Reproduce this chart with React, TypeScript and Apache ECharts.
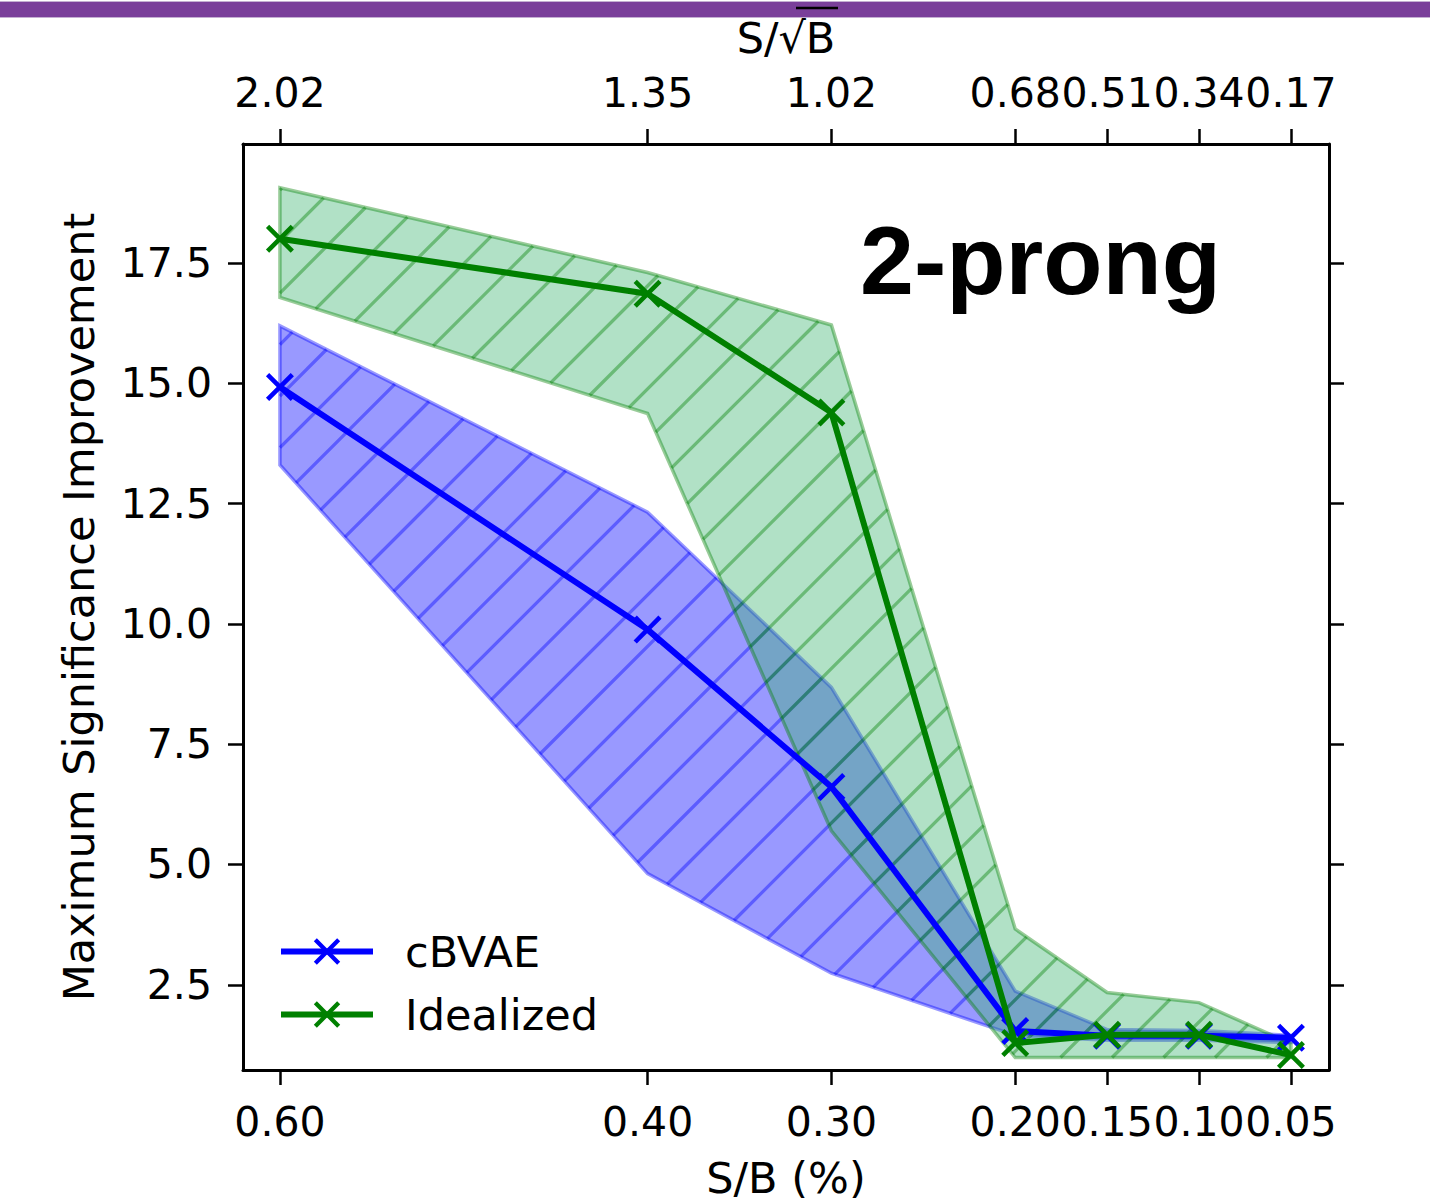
import React, { useEffect, useRef } from "react";
import * as echarts from "echarts";

// S/B (%) positions (bottom axis) and matching S/sqrt(B) labels (top axis)
const xValues = [0.6, 0.4, 0.3, 0.2, 0.15, 0.1, 0.05];
const topLabels = ["2.02", "1.35", "1.02", "0.68", "0.51", "0.34", "0.17"];
const yTicks = [2.5, 5.0, 7.5, 10.0, 12.5, 15.0, 17.5];

// cBVAE
const cbvaeMean = [14.92, 9.88, 6.61, 1.54, 1.44, 1.44, 1.4];
const cbvaeUpper = [16.19, 12.32, 8.68, 2.37, 1.57, 1.55, 1.45];
const cbvaeLower = [13.3, 4.81, 2.74, 1.45, 1.35, 1.35, 1.3];

// Idealized
const idealMean = [18.0, 16.86, 14.39, 1.29, 1.46, 1.46, 1.04];
const idealUpper = [19.06, 17.3, 16.21, 3.66, 2.34, 2.13, 1.28];
const idealLower = [16.78, 14.37, 5.7, 0.99, 0.99, 0.99, 0.99];

const X_MIN = 0.0293;
const X_MAX = 0.6201;
const Y_MIN = 0.73;
const Y_MAX = 19.97;

const FONT = "'DejaVu Sans', sans-serif";
const FS_TICK = 41;
const FS_NAME = 43;
const HATCH_PERIOD = 51.5;
const HATCH_OFFSET = 6.5;

// filled "x" marker
const xSymbol =
  "path://M0,3L3,0L13,10L23,0L26,3L16,13L26,23L23,26L13,16L3,26L0,23L10,13Z";

function bandRenderer(upper: number[], lower: number[], fill: string, edge: string) {
  return (_params: any, api: any) => {
    const pts: number[][] = [];
    for (let i = 0; i < xValues.length; i++) pts.push(api.coord([xValues[i], upper[i]]));
    for (let i = xValues.length - 1; i >= 0; i--) pts.push(api.coord([xValues[i], lower[i]]));
    const children: any[] = [
      { type: "polygon", shape: { points: pts }, style: { fill, stroke: "none" } },
    ];
    const sums = pts.map((p) => p[0] + p[1]);
    const cmin = Math.min(...sums);
    const cmax = Math.max(...sums);
    const n = pts.length;
    const k = Math.ceil((cmin - HATCH_OFFSET) / HATCH_PERIOD);
    for (let c = HATCH_OFFSET + k * HATCH_PERIOD; c <= cmax; c += HATCH_PERIOD) {
      const hits: number[][] = [];
      for (let i = 0; i < n; i++) {
        const a = pts[i];
        const b = pts[(i + 1) % n];
        const fa = a[0] + a[1] - c;
        const fb = b[0] + b[1] - c;
        if (fa < 0 !== fb < 0) {
          const t = fa / (fa - fb);
          hits.push([a[0] + t * (b[0] - a[0]), a[1] + t * (b[1] - a[1])]);
        }
      }
      hits.sort((p, q) => p[0] - q[0]);
      for (let j = 0; j + 1 < hits.length; j += 2) {
        children.push({
          type: "line",
          shape: { x1: hits[j][0], y1: hits[j][1], x2: hits[j + 1][0], y2: hits[j + 1][1] },
          style: { stroke: edge, lineWidth: 3.3 },
        });
      }
    }
    children.push({
      type: "polygon",
      shape: { points: pts },
      style: { fill: "none", stroke: edge, lineWidth: 3.5, lineJoin: "miter" },
    });
    return { type: "group", children };
  };
}

const labelOf = (v: number) => {
  const i = xValues.findIndex((x) => Math.abs(x - v) < 1e-6);
  return i >= 0 ? topLabels[i] : "";
};

const axisLineStyle = { color: "#000", width: 3 };
const tickStyle = { color: "#000", width: 2.5 };
const tickLabelStyle = { color: "#000", fontSize: FS_TICK, fontFamily: FONT };
const nameStyle = { color: "#000", fontSize: FS_NAME, fontFamily: FONT };

const option: any = {
  animation: false,
  backgroundColor: "#fff",
  grid: { left: 243, top: 144, width: 1086, height: 930, containLabel: false },
  graphic: [
    { type: "rect", shape: { x: 0, y: 1, width: 1430, height: 17 }, style: { fill: "#c4afd2" }, z: 0 },
    { type: "rect", shape: { x: 0, y: 2, width: 1430, height: 15 }, style: { fill: "#7a3f9a" }, z: 1 },
    // overline of the square root in the top axis title
    { type: "line", shape: { x1: 796, y1: 8, x2: 838, y2: 8 }, style: { stroke: "#000", lineWidth: 2.5 }, z: 5 },
    {
      type: "text",
      x: 860,
      y: 260,
      style: {
        text: "2-prong",
        font: "bold 97px 'Liberation Sans', Arial, sans-serif",
        fill: "#000",
        align: "left",
        verticalAlign: "middle",
      },
      z: 10,
    },
  ],
  legend: {
    orient: "vertical",
    left: 278,
    top: 930,
    padding: 0,
    itemWidth: 92,
    itemHeight: 33,
    itemGap: 20,
    data: ["cBVAE", "Idealized"],
    lineStyle: { width: 6 },
    textStyle: { color: "#000", fontSize: FS_NAME, fontFamily: FONT, lineHeight: 43, padding: [0, 0, 0, 27] },
  },
  xAxis: [
    {
      type: "value",
      position: "bottom",
      inverse: true,
      min: X_MIN,
      max: X_MAX,
      name: "S/B (%)",
      nameLocation: "middle",
      nameGap: 86,
      nameTextStyle: { ...nameStyle },
      axisLine: { show: true, onZero: false, lineStyle: axisLineStyle },
      axisTick: { show: true, inside: false, length: 15, lineStyle: tickStyle, customValues: xValues },
      axisLabel: { ...tickLabelStyle, margin: 31, customValues: xValues, formatter: (v: number) => v.toFixed(2) },
      splitLine: { show: false },
    },
    {
      type: "value",
      position: "top",
      inverse: true,
      min: X_MIN,
      max: X_MAX,
      name: "S/√B",
      nameLocation: "middle",
      nameGap: 85,
      nameTextStyle: { ...nameStyle },
      axisLine: { show: true, onZero: false, lineStyle: axisLineStyle },
      axisTick: { show: true, inside: false, length: 15, lineStyle: tickStyle, customValues: xValues },
      axisLabel: { ...tickLabelStyle, margin: 31, customValues: xValues, formatter: labelOf },
      splitLine: { show: false },
    },
  ],
  yAxis: [
    {
      type: "value",
      position: "left",
      min: Y_MIN,
      max: Y_MAX,
      name: "Maximum Significance Improvement",
      nameLocation: "middle",
      nameRotate: 90,
      nameGap: 143,
      nameTextStyle: { ...nameStyle },
      axisLine: { show: true, onZero: false, lineStyle: axisLineStyle },
      axisTick: { show: true, inside: false, length: 15, lineStyle: tickStyle, customValues: yTicks },
      axisLabel: { ...tickLabelStyle, margin: 31, customValues: yTicks, formatter: (v: number) => v.toFixed(1) },
      splitLine: { show: false },
    },
    {
      type: "value",
      position: "right",
      min: Y_MIN,
      max: Y_MAX,
      axisLine: { show: true, onZero: false, lineStyle: axisLineStyle },
      axisTick: { show: true, inside: false, length: 15, lineStyle: tickStyle, customValues: yTicks },
      axisLabel: { show: false },
      splitLine: { show: false },
    },
  ],
  series: [
    {
      type: "custom",
      xAxisIndex: 0,
      yAxisIndex: 0,
      silent: true,
      z: 1,
      renderItem: bandRenderer(cbvaeUpper, cbvaeLower, "rgba(0,0,255,0.4)", "rgba(0,0,255,0.4)"),
      data: [[xValues[0], cbvaeMean[0]]],
    },
    {
      type: "custom",
      xAxisIndex: 0,
      yAxisIndex: 0,
      silent: true,
      z: 2,
      renderItem: bandRenderer(idealUpper, idealLower, "rgba(60,179,113,0.4)", "rgba(0,128,0,0.4)"),
      data: [[xValues[0], idealMean[0]]],
    },
    {
      name: "cBVAE",
      type: "line",
      z: 3,
      xAxisIndex: 0,
      yAxisIndex: 0,
      data: xValues.map((x, i) => [x, cbvaeMean[i]]),
      lineStyle: { color: "#0000ff", width: 6 },
      symbol: xSymbol,
      symbolSize: 28,
      showAllSymbol: true,
      itemStyle: { color: "#0000ff" },
      emphasis: { disabled: true },
    },
    {
      name: "Idealized",
      type: "line",
      z: 4,
      xAxisIndex: 0,
      yAxisIndex: 0,
      data: xValues.map((x, i) => [x, idealMean[i]]),
      lineStyle: { color: "#008000", width: 6 },
      symbol: xSymbol,
      symbolSize: 28,
      showAllSymbol: true,
      itemStyle: { color: "#008000" },
      emphasis: { disabled: true },
    },
  ],
};

export default function App() {
  const ref = useRef<HTMLDivElement>(null);
  useEffect(() => {
    if (!ref.current) return;
    const chart = echarts.init(ref.current, null, { renderer: "svg" });
    chart.setOption(option);
    return () => chart.dispose();
  }, []);
  return (
    <div
      ref={ref}
      style={{ position: "absolute", left: 0, top: 0, width: 1430, height: 1204, background: "#fff" }}
    />
  );
}
